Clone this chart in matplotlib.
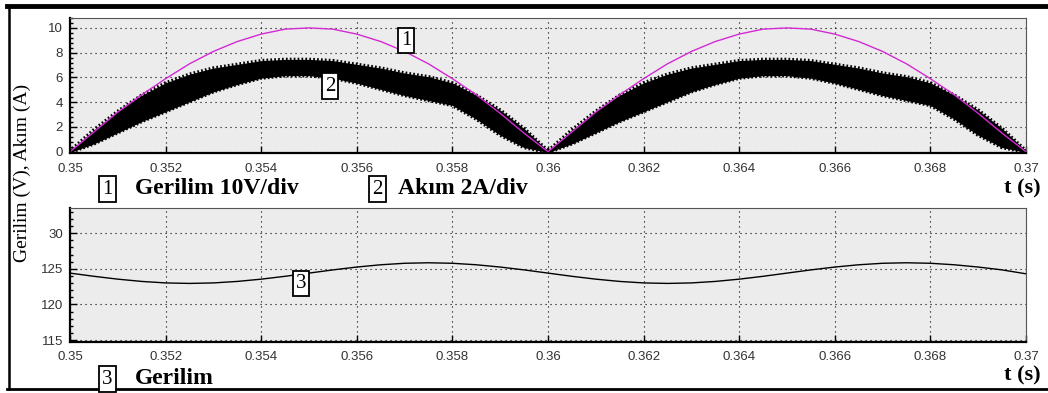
import numpy as np
import matplotlib
matplotlib.use("Agg")
import matplotlib.pyplot as plt
from matplotlib.ticker import AutoMinorLocator

# time axis (s), sampled every 0.5 ms
t = np.round(np.arange(0.35, 0.370001, 0.0005), 4)

# 1: voltage, 10V/div (magenta)
half_v = [0, 1.6, 3.2, 4.6, 5.9, 7.1, 8.1, 8.9, 9.5, 9.9, 10.0,
          9.9, 9.5, 8.9, 8.1, 7.1, 5.9, 4.6, 3.1, 1.5]
volt = half_v + half_v + [0]

# 2: current, 2A/div (ripple band: upper / lower envelope)
half_hi = [0, 1.7, 3.2, 4.5, 5.5, 6.2, 6.7, 7.0, 7.3, 7.4, 7.4,
           7.3, 7.0, 6.7, 6.3, 6.0, 5.5, 4.5, 3.3, 1.8]
half_lo = [0, 0.7, 1.6, 2.5, 3.3, 4.1, 4.9, 5.5, 6.0, 6.2, 6.2,
           6.0, 5.6, 5.1, 4.6, 4.2, 3.8, 2.7, 1.4, 0.4]
cur_hi = half_hi + half_hi + [0]
cur_lo = half_lo + half_lo + [0]

# 3: DC link voltage
dc_v = [124.4, 123.95, 123.55, 123.23, 123.02, 122.95, 123.02, 123.23, 123.55, 123.95,
        124.4, 124.85, 125.25, 125.57, 125.78, 125.85, 125.78, 125.57, 125.25, 124.85,
        124.4, 123.95, 123.55, 123.23, 123.02, 122.95, 123.02, 123.23, 123.55, 123.95,
        124.4, 124.85, 125.25, 125.57, 125.78, 125.85, 125.78, 125.57, 125.25, 124.85,
        124.3]

xticks = [0.35, 0.352, 0.354, 0.356, 0.358, 0.36, 0.362, 0.364, 0.366, 0.368, 0.37]
xticklabels = ["0.35", "0.352", "0.354", "0.356", "0.358", "0.36",
               "0.362", "0.364", "0.366", "0.368", "0.37"]
top_yticks = [0, 2, 4, 6, 8, 10]
bot_yticks = [115, 120, 125, 130]
bot_yticklabels = ["115", "120", "125", "30"]

serif = "Liberation Serif"
sans = "Liberation Sans"

fig = plt.figure(figsize=(10.48, 3.93), dpi=100)
fig.patch.set_facecolor("white")

ax1 = fig.add_axes([0.0668, 0.6107, 0.9122, 0.3435])
ax2 = fig.add_axes([0.0668, 0.1305, 0.9122, 0.3394])

for ax in (ax1, ax2):
    ax.set_facecolor("#ececec")
    ax.set_xlim(0.35, 0.37)
    ax.set_xticks(xticks)
    ax.set_xticklabels(xticklabels, fontfamily=sans, fontsize=9.5, color="#333333")
    ax.grid(True, color="black", linestyle=(0, (1, 3.5)), linewidth=0.8)
    ax.yaxis.set_minor_locator(AutoMinorLocator(5))
    ax.tick_params(which="both", direction="in", length=5, width=1, color="black",
                   top=False, right=False)
    ax.tick_params(axis="x", pad=7)
    ax.tick_params(axis="y", pad=5)
    ax.tick_params(which="minor", length=2)
    for s in ax.spines.values():
        s.set_color("#555555")
        s.set_linewidth(0.8)
    ax.spines["left"].set_color("black")
    ax.spines["left"].set_linewidth(1.6)
    ax.spines["bottom"].set_color("black")
    ax.spines["bottom"].set_linewidth(1.6)

# top panel: current ripple band, with jagged edges
ax1.fill_between(t, cur_lo, cur_hi, color="black", linewidth=1.0, edgecolor="black")
ax1.plot(t, cur_hi, color="black", linewidth=3.5, linestyle=(0, (0.35, 0.45)))
ax1.plot(t, cur_lo, color="black", linewidth=3.5, linestyle=(0.4, (0.35, 0.45)))
ax1.plot(t, volt, color="#d42ad4", linewidth=1.0)
ax1.set_ylim(-0.1, 10.8)
ax1.set_yticks(top_yticks)
ax1.set_yticklabels([str(v) for v in top_yticks], fontfamily=sans, fontsize=9.5, color="#333333")

box = dict(boxstyle="square,pad=0.15", facecolor="white", edgecolor="black", linewidth=1.3)
ax1.text(0.35703, 9.0, "1", fontfamily=serif, fontsize=15, ha="center", va="center", bbox=box)
ax1.text(0.35544, 5.3, "2", fontfamily=serif, fontsize=15, ha="center", va="center", bbox=box)

# bottom panel
ax2.plot(t, dc_v, color="black", linewidth=1.0)
ax2.set_ylim(114.76, 133.5)
ax2.set_yticks(bot_yticks)
ax2.set_yticklabels(bot_yticklabels, fontfamily=sans, fontsize=9.5, color="#333333")
ax2.text(0.35483, 122.9, "3", fontfamily=serif, fontsize=15, ha="center", va="center", bbox=box)

# captions under each panel
cy1 = 1 - 189 / 393
cy2 = 1 - 379 / 393
fig.text(0.1026, cy1, "1", fontfamily=serif, fontsize=15, ha="center", va="center", bbox=box)
fig.text(0.129, cy1, "Gerilim 10V/div", fontfamily=serif, fontsize=17,
         fontweight="bold", ha="left", va="center")
fig.text(0.360, cy1, "2", fontfamily=serif, fontsize=15, ha="center", va="center", bbox=box)
fig.text(0.380, cy1, "Akım 2A/div", fontfamily=serif, fontsize=17,
         fontweight="bold", ha="left", va="center")
fig.text(0.993, 1 - 188 / 393, "t (s)", fontfamily=serif, fontsize=16,
         fontweight="bold", ha="right", va="center")

fig.text(0.1026, cy2, "3", fontfamily=serif, fontsize=15, ha="center", va="center", bbox=box)
fig.text(0.129, cy2, "Gerilim", fontfamily=serif, fontsize=17,
         fontweight="bold", ha="left", va="center")
fig.text(0.993, 1 - 375 / 393, "t (s)", fontfamily=serif, fontsize=16,
         fontweight="bold", ha="right", va="center")

fig.text(0.021, 1 - 173 / 393, "Gerilim (V), Akım (A)", fontfamily=serif, fontsize=14,
         rotation=90, ha="center", va="center")

# outer frame of the original screenshot
fig.add_artist(plt.Line2D([0.007, 1.0], [1 - 6 / 393, 1 - 6 / 393], color="black", linewidth=3.5,
                          transform=fig.transFigure))
fig.add_artist(plt.Line2D([0.009, 0.009], [1 - 6 / 393, 1 - 389 / 393], color="black", linewidth=1.8,
                          transform=fig.transFigure))
fig.add_artist(plt.Line2D([0.007, 1.0], [1 - 389 / 393, 1 - 389 / 393], color="black", linewidth=2,
                          transform=fig.transFigure))

fig.savefig("out.png", dpi=100)
